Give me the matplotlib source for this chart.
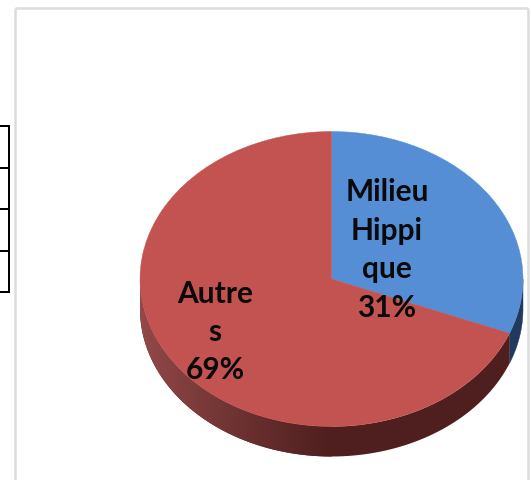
import numpy as np
import matplotlib
matplotlib.use("Agg")
import matplotlib.pyplot as plt
from matplotlib.patches import Polygon
from matplotlib.colors import LinearSegmentedColormap

categories = ["Milieu\nHippi\nque", "Autre\ns"]
values = [31, 69]
colors = ["#558ed5", "#c25351"]
side_blue = "#20395c"
side_red_light = "#94494a"
side_red_dark = "#4e1f1e"
pct_labels = ["31%", "69%"]

W, H = 532, 481
fig = plt.figure(figsize=(W / 100, H / 100), dpi=100, facecolor="white")

# pixel-coordinate layer for frame, table remnants, text
px = fig.add_axes([0, 0, 1, 1], zorder=3)
px.set_xlim(0, W)
px.set_ylim(H, 0)
px.axis("off")
px.patch.set_alpha(0)

# pie layer: unit circle squashed into the projected ellipse
cx, cy, rx, ry, depth = 331.5, 280, 191.5, 147.5, 30
ax = fig.add_axes([0, 0, 1, 1], zorder=2)
wedges, _ = ax.pie(values, colors=colors, startangle=90, counterclock=False,
                   radius=1, center=(0, 0))
for w in wedges:
    w.set_edgecolor(w.get_facecolor())
    w.set_linewidth(0.3)
    w.set_zorder(2)

# side wall computed from the slice angles
d = depth / ry
boundaries = 90 - 360 * np.cumsum([0] + values) / sum(values)


def wall(t_hi, t_lo):
    """Outline of the visible (lower-half) wall between two angles."""
    r = np.radians(np.linspace(t_lo, t_hi, 200))
    xs, ys = np.cos(r), np.sin(r)
    return np.r_[np.c_[xs, ys], np.c_[xs, ys - d][::-1]]


ax.add_patch(Polygon(wall(0, boundaries[1]), closed=True, facecolor=side_blue,
                     edgecolor=side_blue, lw=0.3, zorder=0.5))

# The red slice runs past the lower half: its visible wall is the remainder.
red_wall = Polygon(wall(boundaries[1], -180), closed=True,
                   facecolor=side_red_dark, edgecolor="none", zorder=0.6)
ax.add_patch(red_wall)
cmap = LinearSegmentedColormap.from_list("side", [side_red_light, side_red_dark])
grad = np.linspace(0, 1, 256)[None, :] ** 0.9
im = ax.imshow(grad, extent=(-1, 0, -1.3, 0.2), cmap=cmap, aspect="auto",
               zorder=0.7, interpolation="bilinear")
im.set_clip_path(red_wall)

ax.set_aspect("auto")
ax.set_xlim((0 - cx) / rx, (W - cx) / rx)
ax.set_ylim((cy - H) / ry, (cy - 0) / ry)
ax.patch.set_alpha(0)
ax.axis("off")

# chart frame
frame = "#dcdcdc"
px.plot([14.5, 14.5], [H, 8.5], color=frame, lw=1.8, solid_capstyle="butt")
px.plot([14.5, 528], [8.5, 8.5], color=frame, lw=1.8, solid_capstyle="butt")
px.plot([528, 528], [8.5, H], color=frame, lw=1.8, solid_capstyle="butt")

# cropped table at left edge
rows_y = [127, 169, 210, 252, 293]
px.hlines(rows_y, -2, 10, color="black", lw=1.44)
px.vlines(9, 126, 294, color="black", lw=1.44)

# labels
font = dict(family="Lato", fontweight="bold", fontsize=21.5, color="#0a0a0a",
            ha="center", va="center")
px.text(387, 250, categories[0] + "\n" + pct_labels[0], linespacing=1.45, **font)
px.text(215, 332, categories[1] + "\n" + pct_labels[1], linespacing=1.45, **font)

fig.savefig("out.png", dpi=100, facecolor="white")
